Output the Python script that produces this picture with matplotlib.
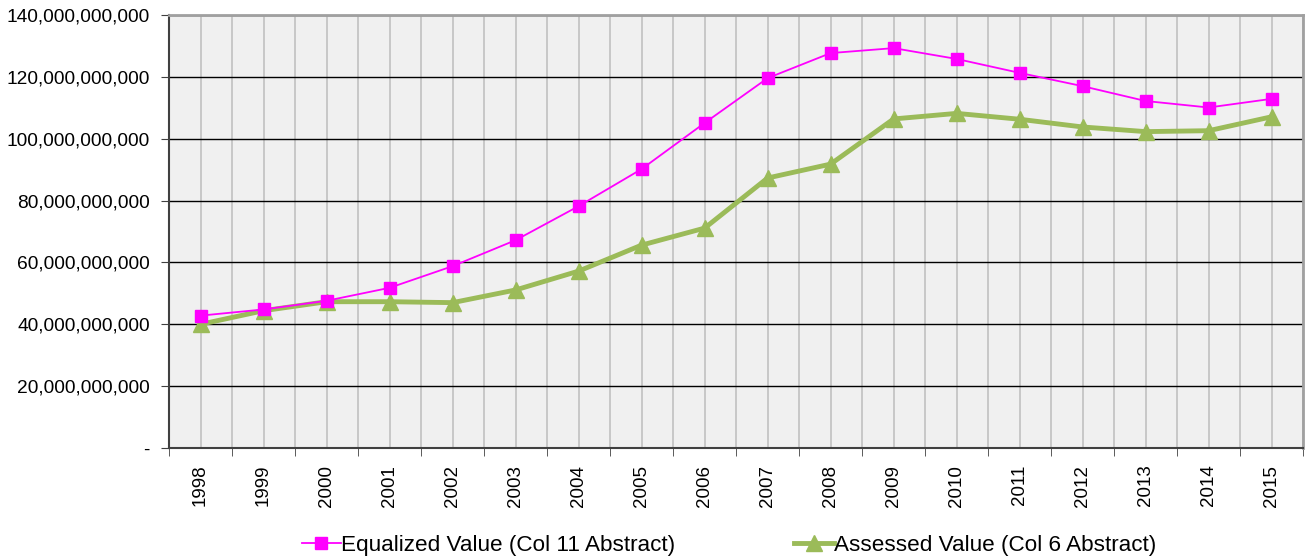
import numpy as np
import matplotlib.pyplot as plt
from matplotlib.ticker import FuncFormatter, FixedLocator

plt.rcParams["font.family"] = ["Liberation Sans", "DejaVu Sans"]

years = [str(y) for y in range(1998, 2016)]
equalized = [42.8, 44.8, 47.6, 51.8, 58.8, 67.2, 78.2, 90.2, 105.1, 119.6,
             127.7, 129.3, 125.8, 121.3, 117.0, 112.2, 110.1, 112.9]
assessed = [40.0, 44.4, 47.3, 47.3, 47.0, 51.1, 57.2, 65.6, 71.1, 87.3,
            91.8, 106.4, 108.2, 106.3, 103.8, 102.3, 102.6, 107.1]
equalized = np.array(equalized) * 1e9
assessed = np.array(assessed) * 1e9

PINK = "#FF00FF"
GREEN = "#9BBB59"

fig = plt.figure(figsize=(13.11, 5.59), dpi=100)
ax = fig.add_axes([0.129, 0.1986, 0.865, 0.7745])
ax.set_facecolor("#F0F0F0")

x = np.arange(len(years))
ax.plot(x, equalized, color=PINK, lw=1.3, marker="s", ms=8,
        label="Equalized Value (Col 11 Abstract)", zorder=4)
ax.plot(x, assessed, color=GREEN, lw=3.5, marker="^", ms=11,
        label="Assessed Value (Col 6 Abstract)", zorder=3)

ax.set_xlim(-0.5, len(years) - 0.5)
ax.set_ylim(0, 140e9)
ax.set_yticks(np.arange(0, 141e9, 20e9))
ax.yaxis.set_major_formatter(
    FuncFormatter(lambda v, p: "-" if v == 0 else f"{v:,.0f}"))

ax.set_xticks(x)
ax.set_xticklabels(years, rotation=90)
ax.xaxis.set_minor_locator(FixedLocator(np.arange(-0.5, len(years), 1)))
ax.tick_params(axis="x", which="major", length=0, labelsize=13.5, pad=12)
ax.tick_params(axis="x", which="minor", length=6, color="#404040")
ax.tick_params(axis="y", length=6, labelsize=13.8, color="#404040", pad=8)

ax.grid(axis="x", which="both", color="#C0C0C0", lw=1.2, zorder=1)
ax.grid(axis="y", which="major", color="black", lw=1, zorder=1)
ax.set_axisbelow(True)

for side in ["left", "bottom"]:
    ax.spines[side].set_color("#404040")
    ax.spines[side].set_linewidth(1.5)
for side in ["right", "top"]:
    ax.spines[side].set_color("#A0A0A0")
    ax.spines[side].set_linewidth(2)

fig.legend(loc="lower center", bbox_to_anchor=(0.556, -0.031), ncol=2,
           frameon=False, fontsize=16.2, handlelength=1.75, handletextpad=0.0,
           columnspacing=5.3)

fig.savefig("out.png", dpi=100)
